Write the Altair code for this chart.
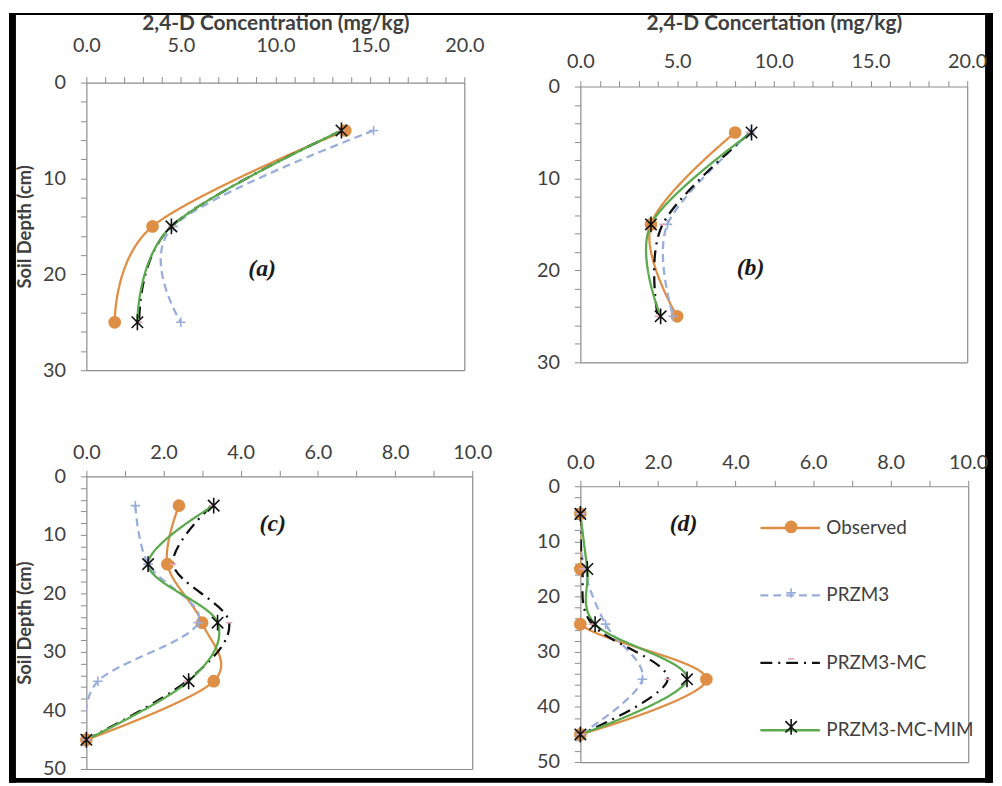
import altair as alt
import pandas as pd

SERIES = ["Observed", "PRZM3", "PRZM3-MC", "PRZM3-MC-MIM"]

depth_ab = [5, 15, 25]
depth_cd = [5, 15, 25, 35, 45]

a_observed = [13.7, 3.5, 1.5]
a_przm3 = [15.2, 4.6, 5.0]
a_przm3_mc = [13.5, 4.5, 2.8]
a_przm3_mc_mim = [13.5, 4.5, 2.7]

b_observed = [8.0, 3.65, 5.0]
b_przm3 = [8.8, 4.5, 4.8]
b_przm3_mc = [8.8, 4.25, 4.0]
b_przm3_mc_mim = [8.85, 3.65, 4.15]

c_observed = [2.4, 2.1, 3.0, 3.3, 0.0]
c_przm3 = [1.27, 1.6, 2.9, 0.3, 0.0]
c_przm3_mc = [3.25, 2.25, 3.7, 2.6, 0.0]
c_przm3_mc_mim = [3.3, 1.6, 3.4, 2.65, 0.0]

d_observed = [0.0, 0.0, 0.0, 3.25, 0.0]
d_przm3 = [0.0, 0.1, 0.65, 1.6, 0.0]
d_przm3_mc = [0.0, 0.05, 0.3, 2.25, 0.0]
d_przm3_mc_mim = [0.0, 0.18, 0.38, 2.75, 0.0]

x_title_a = "2,4-D Concentration (mg/kg)"
x_title_b = "2,4-D Concertation (mg/kg)"
y_title = "Soil Depth (cm)"

ORANGE = "#DE8F45"
BLUE = "#99AEDB"
BLACK = "#111111"
GREEN = "#5BAA4E"
PINK = "#E4A5B5"
AXIS_GRAY = "#8c8c8c"
TEXT = "#404040"

LINE_COLORS = [ORANGE, BLUE, BLACK, GREEN]
DASHES = [[1, 0], [8, 5], [12, 6, 2, 6], [1, 0]]
MARKER_COLORS = [ORANGE, BLUE, PINK, BLACK]


def ring(r):
    return f"M{r},0A{r},{r},0,1,1,{-r},0A{r},{r},0,1,1,{r},0Z"


DOT = "".join(ring(r) for r in (0.7, 0.5, 0.3, 0.12))
PLUS = "M-0.6,0L0.6,0M0,-0.6L0,0.6"
DASH = "M-0.4,0L0.4,0"
STAR = "M-0.72,-0.72L0.72,0.72M-0.72,0.72L0.72,-0.72M0,-1L0,1"
MARKER_SHAPES = [DOT, PLUS, DASH, STAR]


def table(depths, values):
    rows = []
    for name, vals in zip(SERIES, values):
        for d, v in zip(depths, vals):
            rows.append({"series": name, "marker": name, "depth": d, "conc": v})
    return pd.DataFrame(rows)


def panel(df, tag, tag_x, tag_y, xmax, xlabel_step, ymax, width, cell_h, top, plot_h,
          xtitle, ytitle, x_label_pad, x_title_pad, y_label_pad, y_title_pad,
          legend=False, extra=()):
    bottom_gap = cell_h - top - plot_h
    x_axis = dict(orient="top", values=list(range(0, xmax + 1)),
                  labelExpr=f"datum.value % {xlabel_step} == 0 ? format(datum.value, '.1f') : ''",
                  labelPadding=x_label_pad, labelOverlap=False, labelFlush=False, grid=False,
                  offset=-top, title=xtitle)
    if xtitle is not None:
        x_axis["titlePadding"] = x_title_pad
        x_axis["titleFontSize"] = 21
    y_axis = dict(values=list(range(0, ymax + 1, 2)),
                  labelExpr="datum.value % 10 == 0 ? format(datum.value, 'd') : ''",
                  labelPadding=y_label_pad, labelOverlap=False, labelFlush=False, grid=False,
                  title=ytitle)
    if ytitle is not None:
        y_axis["titlePadding"] = y_title_pad
        y_axis["titleFontSize"] = 18.5
    xs = alt.Scale(domain=[0, xmax], nice=False, zero=True)
    ys = alt.Scale(domain=[0, ymax], nice=False, range=[top, top + plot_h])
    x = alt.X("conc:Q", scale=xs, axis=alt.Axis(**x_axis))
    y = alt.Y("depth:Q", scale=ys, axis=alt.Axis(**y_axis))
    x_plain = alt.X("conc:Q", scale=xs, axis=None)
    y_plain = alt.Y("depth:Q", scale=ys, axis=None)
    x_edge = alt.X("conc:Q", scale=xs, axis=alt.Axis(orient="bottom", labels=False, ticks=False, grid=False,
                                                    offset=-bottom_gap, title=None))
    y_edge = alt.Y("depth:Q", scale=ys, axis=alt.Axis(orient="right", labels=False, ticks=False, grid=False,
                                                     title=None))

    if legend:
        line_leg = alt.Legend(orient="none", legendX=180, legendY=20.5, title=None, symbolType="stroke",
                              symbolSize=3600, symbolStrokeWidth=2.4, labelFont="Lato", labelFontSize=19,
                              labelColor=TEXT, labelLimit=300, rowPadding=26, padding=0, labelOffset=5)
        mark_leg = alt.Legend(orient="none", legendX=203, legendY=41.5, title=None,
                              symbolSize=256, symbolStrokeWidth=1.6, labelFont="Lato", labelFontSize=19,
                              labelExpr="''", labelLimit=300, rowPadding=46.5, padding=0, labelOffset=5)
    else:
        line_leg = None
        mark_leg = None

    base = alt.Chart(df)
    lines = base.mark_line(interpolate="cardinal", tension=0, strokeWidth=2.3, clip=True).encode(
        x=x, y=y, order=alt.Order("depth:Q"),
        stroke=alt.Stroke("series:N", scale=alt.Scale(domain=SERIES, range=LINE_COLORS), legend=line_leg),
        strokeDash=alt.StrokeDash("series:N", scale=alt.Scale(domain=SERIES, range=DASHES), legend=line_leg),
    )
    points = base.mark_point(size=256, strokeWidth=1.6, opacity=1, filled=False).encode(
        x=x_plain, y=y_plain,
        color=alt.Color("marker:N", scale=alt.Scale(range=MARKER_COLORS), legend=mark_leg),
        shape=alt.Shape("marker:N", scale=alt.Scale(range=MARKER_SHAPES), legend=mark_leg),
    )
    tag_df = pd.DataFrame({"conc": [tag_x], "depth": [tag_y], "tag": [tag]})
    tags = alt.Chart(tag_df).mark_text(font="Liberation Serif", fontSize=24, fontStyle="italic",
                                       fontWeight="bold", color="#1a1a1a").encode(
        x=x_edge, y=y_edge, text="tag:N")
    return (alt.layer(lines, points, tags, *extra)
            .resolve_axis(x="independent", y="independent")
            .properties(width=width, height=cell_h))


def band(x0, x1, y0, y1):
    return alt.Chart(alt.Data(values=[{"k": 0}])).mark_rect(color="black").encode(
        x=alt.value(x0), x2=alt.value(x1), y=alt.value(y0), y2=alt.value(y1))


frame = [band(-78, -71, -70, 706), band(-78, 914, -70, -68), band(906, 914, -70, 706), band(-78, 914, 701, 706)]

pa = panel(table(depth_ab, [a_observed, a_przm3, a_przm3_mc, a_przm3_mc_mim]), "(a)", 9.3, 19.4,
           20, 5, 30, 381, 290, 0, 290, x_title_a, y_title, 21, 2, 15, 8, extra=frame)
pb = panel(table(depth_ab, [b_observed, b_przm3, b_przm3_mc, b_przm3_mc_mim]), "(b)", 8.8, 19.8,
           20, 5, 30, 390, 290, 4, 278, x_title_b, None, 8.8, 19, 15, 8)
pc = panel(table(depth_cd, [c_observed, c_przm3, c_przm3_mc, c_przm3_mc_mim]), "(c)", 4.83, 8.1,
           10, 2, 50, 389, 295, 0, 295, None, y_title, 7.8, 2, 15, 8)
pd_ = panel(table(depth_cd, [d_observed, d_przm3, d_przm3_mc, d_przm3_mc_mim]), "(d)", 2.66, 6.8,
            10, 2, 50, 391, 295, 10, 278, None, None, 7.8, 2, 15, 8, legend=True)

IND = dict(stroke="independent", strokeDash="independent", color="independent", shape="independent")

chart = alt.concat(pa, pb, pc, pd_, columns=2, spacing={"row": 107, "column": 109},
                   bounds="flush").resolve_scale(**IND).resolve_legend(**IND)

chart = chart.properties(padding=0, background="white").configure_view(
    stroke="transparent"
).configure_axis(
    domainColor=AXIS_GRAY, domainWidth=1.2, tickColor=AXIS_GRAY, tickSize=6, tickWidth=1,
    labelFont="Lato", labelFontSize=20, labelColor=TEXT,
    titleFont="Lato", titleFontSize=20, titleFontWeight="bold", titleColor=TEXT,
)

chart.save("out.html", embed_options={"renderer": "svg", "actions": False})
